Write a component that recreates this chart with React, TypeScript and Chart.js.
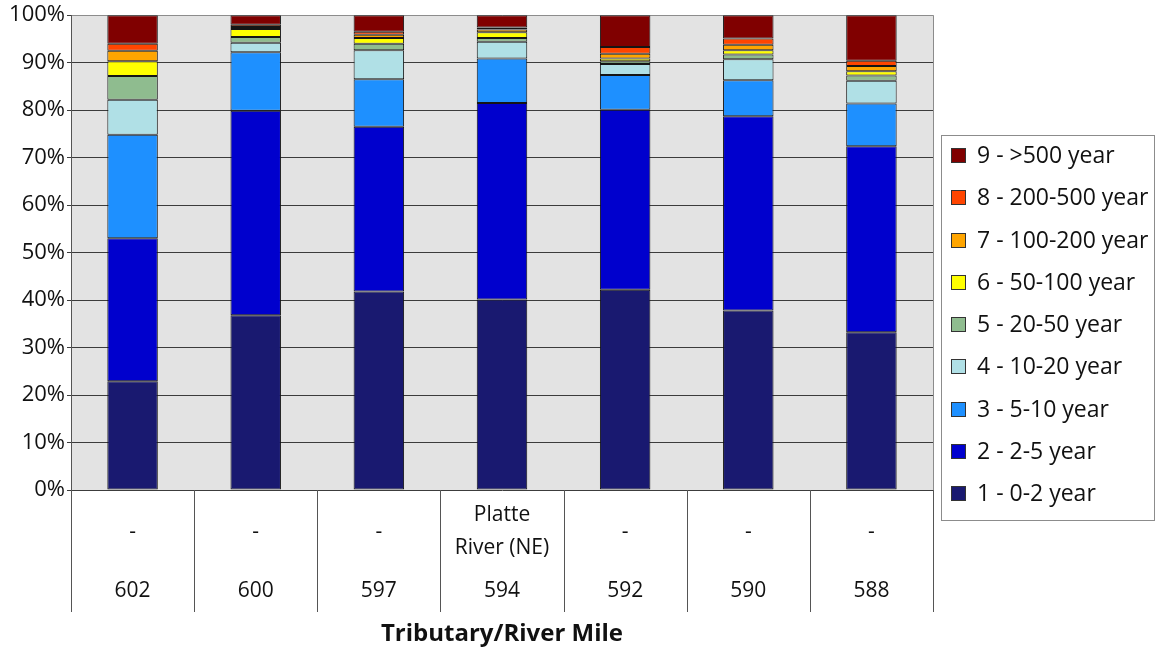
import React, { useEffect, useRef } from "react";
import { Chart, registerables } from "chart.js";

Chart.register(...registerables);

// River miles along the reach, and the tributary (if any) entering there
const riverMiles = ["602", "600", "597", "594", "592", "590", "588"];
const tributaries = [["-"], ["-"], ["-"], ["Platte", "River (NE)"], ["-"], ["-"], ["-"]];

// Recurrence-interval classes and their fill colours
const seriesLabels = [
  "1 - 0-2 year",
  "2 - 2-5 year",
  "3 - 5-10 year",
  "4 - 10-20 year",
  "5 - 20-50 year",
  "6 - 50-100 year",
  "7 - 100-200 year",
  "8 - 200-500 year",
  "9 - >500 year",
];
const seriesColors = [
  "#191970",
  "#0000CD",
  "#1E90FF",
  "#B0E0E6",
  "#8FBC8F",
  "#FFFF00",
  "#FFA500",
  "#FF4500",
  "#800000",
];

// Share of each class (percent) at every river mile
const rp0to2 = [22.9, 36.8, 41.8, 40.1, 42.2, 37.8, 33.2];
const rp2to5 = [30.1, 43.1, 34.7, 41.4, 37.9, 40.9, 39.2];
const rp5to10 = [21.8, 12.3, 10.0, 9.4, 7.3, 7.6, 9.0];
const rp10to20 = [7.4, 2.0, 6.1, 3.5, 2.3, 4.4, 4.8];
const rp20to50 = [5.0, 1.2, 1.4, 0.8, 0.6, 1.0, 1.1];
const rp50to100 = [3.1, 1.7, 1.2, 1.2, 0.6, 0.9, 0.9];
const rp100to200 = [2.2, 0.4, 0.7, 0.6, 1.0, 1.2, 1.1];
const rp200to500 = [1.5, 0.5, 0.6, 0.4, 1.4, 1.3, 1.1];
const rpOver500 = [6.0, 2.0, 3.5, 2.6, 6.7, 4.9, 9.6];

const seriesValues = [
  rp0to2,
  rp2to5,
  rp5to10,
  rp10to20,
  rp20to50,
  rp50to100,
  rp100to200,
  rp200to500,
  rpOver500,
];

const yMin = 0;
const yMax = 100;
const yStep = 10;
const axisTitle = "Tributary/River Mile";

const FONT = "'Open Sans', 'Noto Sans', sans-serif";
const TEXT = "#111";

const crisp = (v: number) => Math.round(v) + 0.5;

// Plot background, two-row category labels, axis title and boxed legend
const decorPlugin = {
  id: "decor",
  beforeDraw(chart: any) {
    const { ctx, chartArea } = chart;
    const { left, top, right, bottom } = chartArea;
    ctx.save();
    ctx.fillStyle = "#e3e3e3";
    ctx.fillRect(left, top, right - left, bottom - top);
    ctx.restore();
  },
  afterDraw(chart: any) {
    const { ctx, chartArea } = chart;
    const { left, top, right, bottom } = chartArea;
    const xs = chart.scales.x;
    const n = chart.data.labels.length;
    const half = (xs.getPixelForValue(1) - xs.getPixelForValue(0)) / 2;

    ctx.save();
    // frame on the right edge of the plot
    ctx.strokeStyle = "#8c8c8c";
    ctx.lineWidth = 1;
    ctx.beginPath();
    ctx.moveTo(crisp(right), top);
    ctx.lineTo(crisp(right), bottom);
    ctx.stroke();

    // category dividers
    const tableBottom = bottom + 122;
    ctx.strokeStyle = "#555";
    for (let i = 0; i <= n; i++) {
      const bx = i < n ? xs.getPixelForValue(i) - half : xs.getPixelForValue(n - 1) + half;
      ctx.beginPath();
      ctx.moveTo(crisp(bx), bottom);
      ctx.lineTo(crisp(bx), tableBottom);
      ctx.stroke();
    }

    // category labels: tributary row and river-mile row
    ctx.fillStyle = TEXT;
    ctx.textAlign = "center";
    ctx.textBaseline = "middle";
    ctx.font = `21px ${FONT}`;
    const row1 = bottom + 42;
    const row2 = bottom + 101;
    const lineGap = 33;
    for (let i = 0; i < n; i++) {
      const cx = xs.getPixelForValue(i);
      const lines = tributaries[i];
      const y0 = row1 - ((lines.length - 1) * lineGap) / 2;
      lines.forEach((t, j) => ctx.fillText(t, cx, y0 + j * lineGap));
      ctx.fillText(chart.data.labels[i], cx, row2);
    }

    // axis title
    ctx.font = `bold 24px ${FONT}`;
    ctx.fillText(axisTitle, (left + right) / 2, bottom + 144);

    // legend, highest class on top
    const lgLeft = right + 8;
    const lgTop = 135;
    const lgW = 213;
    const lgH = 385;
    ctx.strokeStyle = "#8c8c8c";
    ctx.strokeRect(crisp(lgLeft), crisp(lgTop), lgW, lgH);
    ctx.font = `23px ${FONT}`;
    ctx.textAlign = "left";
    const ds = chart.data.datasets;
    const step = 42.25;
    for (let k = ds.length - 1, r = 0; k >= 0; k--, r++) {
      const cy = lgTop + 20.5 + r * step;
      const sx = lgLeft + 10;
      ctx.fillStyle = ds[k].backgroundColor;
      ctx.fillRect(sx, Math.round(cy - 7.5), 15, 15);
      ctx.strokeStyle = "#333";
      ctx.strokeRect(sx + 0.5, Math.round(cy - 7.5) + 0.5, 14, 14);
      ctx.fillStyle = TEXT;
      ctx.fillText(ds[k].label, lgLeft + 36, cy + 1);
    }
    ctx.restore();
  },
};

export default function App() {
  const canvasRef = useRef<HTMLCanvasElement | null>(null);

  useEffect(() => {
    const canvas = canvasRef.current;
    if (!canvas) return;

    const chart = new Chart(canvas, {
      type: "bar",
      data: {
        labels: riverMiles,
        datasets: seriesLabels.map((label, i) => ({
          label,
          data: seriesValues[i],
          backgroundColor: seriesColors[i],
          borderColor: "#151515",
          borderWidth: 1,
          borderSkipped: false,
          categoryPercentage: 1,
          barPercentage: 0.41,
        })),
      },
      options: {
        responsive: true,
        maintainAspectRatio: false,
        animation: false,
        layout: { padding: { top: 15, right: 230, bottom: 159, left: 0 } },
        plugins: {
          legend: { display: false },
          tooltip: { enabled: false },
        },
        scales: {
          x: {
            stacked: true,
            display: false,
          },
          y: {
            stacked: true,
            min: yMin,
            max: yMax,
            ticks: {
              stepSize: yStep,
              padding: 2,
              color: TEXT,
              font: { family: FONT, size: 22 },
              callback: (v: any) => `${v}%`,
            },
            grid: {
              color: (c: any) => (c.tick && c.tick.value === yMax ? "#8c8c8c" : "#3c3c3c"),
              lineWidth: 1,
              tickLength: 4,
              tickColor: "#3c3c3c",
            },
            border: { display: true, color: "#555", width: 1 },
            afterFit: (scale: any) => {
              scale.width = 71;
            },
          },
        },
      },
      plugins: [decorPlugin],
    });

    return () => chart.destroy();
  }, []);

  return (
    <div style={{ position: "absolute", left: 0, top: 0, width: 1163, height: 649 }}>
      <canvas ref={canvasRef} />
    </div>
  );
}
